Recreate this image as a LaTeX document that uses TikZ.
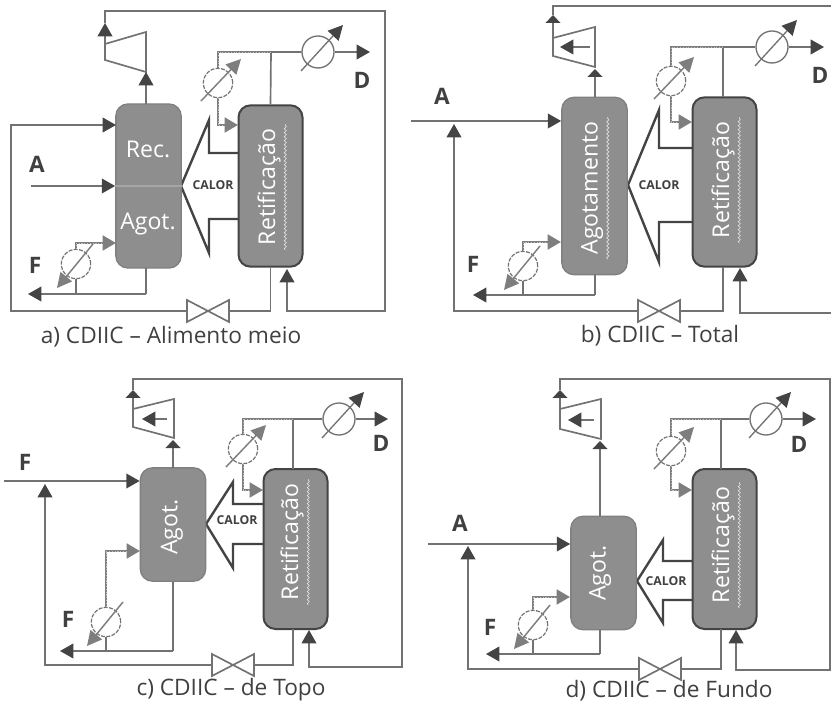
\documentclass[tikz,border=0pt]{standalone}
\usepackage{fontspec}
\setmainfont{Open Sans}
\usetikzlibrary{arrows.meta,decorations.pathmorphing}
\definecolor{linhacor}{HTML}{727272}
\definecolor{pontacor}{HTML}{444444}
\definecolor{cinzacor}{HTML}{7E7E7E}
\definecolor{colunacor}{HTML}{8E8E8E}
\definecolor{textocor}{HTML}{404040}
\tikzset{
  linha/.style={draw=linhacor,line width=1.25pt},
  seta/.style={linha,-{Triangle[length=10pt,width=11pt,color=pontacor]}},
  setab/.style={linha,-{Triangle[length=6pt,width=11pt,color=pontacor]}},
  setafina/.style={draw=linhacor,line width=1pt,-{Triangle[length=11pt,width=11pt,color=pontacor]}},
  pont/.style={draw=cinzacor,line width=2.1pt,postaction={draw=white!75!black,line width=0.7pt,dash pattern=on 0.8pt off 1.3pt}},
  setapont/.style={draw=cinzacor,line width=2.1pt,-{Triangle[length=10pt,width=11pt,color=cinzacor]},
    postaction={draw=white!75!black,line width=0.7pt,dash pattern=on 0.8pt off 1.3pt,arrows=-,shorten >=10pt}},
  setacinza/.style={draw=cinzacor,line width=1.1pt,-{Triangle[length=11pt,width=11pt,color=cinzacor]}},
  colAg/.style={draw=linhacor!90,line width=1pt,fill=colunacor,rounded corners=9pt,inner sep=0pt,minimum width=49pt},
  colRet/.style={draw=pontacor,line width=1.5pt,fill=colunacor,rounded corners=9pt,inner sep=0pt,minimum width=48pt},
  troc/.style={circle,draw=linhacor,line width=1pt,inner sep=0pt,minimum size=24pt},
  trocp/.style={circle,draw=linhacor,line width=0.9pt,dash pattern=on 3pt off 1pt,inner sep=0pt,minimum size=22pt},
  valv/.style={inner sep=0pt,minimum width=31pt,minimum height=16pt},
  calor/.style={draw=pontacor,line width=1.8pt,fill=white,miter limit=20},
  rot/.style={text=white,font=\fontsize{17.3}{18}\selectfont},
  rotv/.style={rot,rotate=90},
  leg/.style={text=textocor,font=\fontsize{17}{18}\selectfont},
  letra/.style={text=textocor,font=\bfseries\fontsize{17}{18}\selectfont},
  cal/.style={text=textocor,font=\bfseries\fontsize{9.2}{10}\selectfont,inner sep=0pt},
  ond/.style={draw=white!90!black,line width=0.45pt,decorate,decoration={snake,amplitude=0.8pt,segment length=3pt}}
}
\begin{document}
\begin{tikzpicture}[x=0.75pt,y=-0.75pt]
\useasboundingbox (0,0) rectangle (831,705);
% a) alimento meio
\draw[calor] (181,186)--(209,120)--(209,153)--(240,153)--(240,219)--(209,219)--(209,253)--cycle;
\node[colAg,minimum height=123pt] (recA) at (148.5,186) {};
\node[colRet,minimum height=121pt] (retA) at (270.5,186) {};
\draw[draw=white!65!black,line width=1.4pt] (recA.west)--(recA.east);
\node[rot] (tRec) at (148,149) {Rec.};
\node[rot] (tAgA) at (148,224) {Agot.};
\node[rotv] (tRetA) at (269,187) {Retificação};
\draw[ond] (tRetA.south west)--(tRetA.south east);
\node[cal] (cA) at (213,185) {CALOR};
\node[troc] (condA) at (318,52) {};
\node[trocp] (trocA) at (218,83) {};
\node[trocp] (refvA) at (76,264) {};
\node[valv] (valA) at (208,311) {};
\coordinate (nA) at (271,52); \coordinate (dA) at (370,52);
\coordinate (eA) at (238,125); \coordinate (fA) at (116,243);
\coordinate (gA) at (11,125); \coordinate (hA) at (116,125);
\coordinate (iA) at (31,186); \coordinate (jA) at (146,294);
\coordinate (kA) at (28,294); \coordinate (sA) at (105,23);
\coordinate (uA) at (76,294);
\draw[linha] (105,44)--(146,32)--(146,72)--(105,60)--cycle;
\draw[seta] (146,104)--(146,72);
\draw[seta] (105,44)--(sA);
\draw[seta] (sA)--(105,11)--(385,11)--(385,311)--(287,311)--(287,269);
\draw[linha] (retA.north)--(nA)--(condA.west);
\draw[seta] (condA.east)--(dA);
\draw[pont] (nA)-|(trocA.north);
\draw[setapont] (trocA.south)|-(eA);
\draw[seta] (iA)--(recA.west);
\draw[seta] (valA.west)-|(gA)--(hA);
\draw[linha] (retA.south)|-(valA.east);
\draw[linha] (146,268)|-(jA);
\draw[seta] (jA)--(kA);
\draw[linha] (uA)--(refvA.south);
\draw[setapont] (refvA.north)|-(fA);
\node[letra] (lA1) at (37,164) {A};
\node[letra] (lF1) at (35,265) {F};
\node[letra] (lD1) at (362,80) {D};
\node[leg] (capA) at (171,337) {a) CDIIC -- Alimento meio};
% b) total
\draw[calor] (628,185)--(659,110)--(659,148)--(694,148)--(694,222)--(659,222)--(659,262)--cycle;
\node[colAg,minimum height=133pt] (agB) at (594.5,186) {};
\node[colRet,minimum height=127pt] (retB) at (724.5,182) {};
\node[rotv] (tAgB) at (592,188) {Agotamento};
\draw[ond] (tAgB.south west)--(tAgB.south east);
\node[rotv] (tRetB) at (723,180) {Retificação};
\draw[ond] (tRetB.south west)--(tRetB.south east);
\node[cal] (cB) at (659,185) {CALOR};
\node[troc] (condB) at (772,47) {};
\node[trocp] (trocB) at (671,81) {};
\node[trocp] (refvB) at (523,266) {};
\node[valv] (valB) at (659,311) {};
\coordinate (nB) at (723,47); \coordinate (dB) at (824,47);
\coordinate (eB) at (692,122); \coordinate (fB) at (561,242);
\coordinate (gB) at (454,124); \coordinate (iB) at (411,121);
\coordinate (jB) at (595,295); \coordinate (kB) at (473,295);
\coordinate (sB) at (553,15); \coordinate (uB) at (523,295);
\draw[linha] (553,38)--(595,27)--(595,67)--(553,56)--cycle;
\draw[seta] (590,47)--(560,47);
\draw[setab] (595,97)--(595,69);
\draw[setab] (553,38)--(sB);
\draw[linha] (sB)--(553,6)--(835,6);
\draw[seta] (835,313)--(740,313)--(740,268);
\draw[linha] (723,97)--(nB)--(condB.west);
\draw[seta] (condB.east)--(dB);
\draw[pont] (nB)-|(trocB.north);
\draw[setapont] (trocB.south)|-(eB);
\draw[seta] (iB)--(agB.west |- iB);
\draw[seta] (valB.west)-|(gB);
\draw[linha] (723,267)|-(valB.east);
\draw[linha] (595,275)|-(jB);
\draw[seta] (jB)--(kB);
\draw[linha] (uB)--(refvB.south);
\draw[setapont] (refvB.north)|-(fB);
\node[letra] (lA2) at (442,96) {A};
\node[letra] (lF2) at (473,264) {F};
\node[letra] (lD2) at (820,75) {D};
\node[leg] (capB) at (660,336) {b) CDIIC -- Total};
% c) de topo
\draw[calor] (206,524)--(233,482)--(233,504)--(265,504)--(265,544)--(233,544)--(233,568)--cycle;
\node[colAg,minimum height=85pt] (agC) at (173,524.5) {};
\node[colRet,minimum height=120pt] (retC) at (295.5,549) {};
\node[rotv] (tAgC) at (172,527) {Agot.};
\node[rotv] (tRetC) at (292,542) {Retificação};
\draw[ond] (tRetC.south west)--(tRetC.south east);
\node[cal] (cC) at (237,520) {CALOR};
\node[troc] (condC) at (339,419) {};
\node[trocp] (trocC) at (243,449) {};
\node[trocp] (refvC) at (106,622) {};
\node[valv] (valC) at (233,665) {};
\coordinate (nC) at (293,419); \coordinate (dC) at (388,419);
\coordinate (eC) at (263,490); \coordinate (fC) at (140,551);
\coordinate (gC) at (45,484); \coordinate (iC) at (4,481);
\coordinate (jC) at (173,651); \coordinate (kC) at (60,651);
\coordinate (sC) at (133,390); \coordinate (uC) at (106,651);
\draw[linha] (133,409)--(174,399)--(174,438)--(133,427)--cycle;
\draw[seta] (167,419)--(142,419);
\draw[setab] (173,468)--(173,440);
\draw[setab] (133,409)--(sC);
\draw[seta] (sC)--(133,379)--(402,379)--(402,667)--(309,667)--(309,630);
\draw[linha] (293,469)--(nC)--(condC.west);
\draw[seta] (condC.east)--(dC);
\draw[pont] (nC)-|(trocC.north);
\draw[setapont] (trocC.south)|-(eC);
\draw[seta] (iC)--(agC.west |- iC);
\draw[seta] (valC.west)-|(gC);
\draw[linha] (293,629)|-(valC.east);
\draw[linha] (agC.south)|-(jC);
\draw[seta] (jC)--(kC);
\draw[linha] (uC)--(refvC.south);
\draw[setapont] (refvC.north)|-(fC);
\node[letra] (lF3) at (25,462) {F};
\node[letra] (lF4) at (68,619) {F};
\node[letra] (lD3) at (381,443) {D};
\node[leg] (capC) at (231,690) {c) CDIIC -- de Topo};
% d) de fundo
\draw[calor] (637,581)--(663,540)--(663,561)--(694,561)--(694,600)--(663,600)--(663,623)--cycle;
\node[colAg,minimum height=85pt] (agD) at (603.5,573) {};
\node[colRet,minimum height=120pt] (retD) at (724.5,549) {};
\node[rotv] (tAgD) at (600,573) {Agot.};
\node[rotv] (tRetD) at (723,545) {Retificação};
\draw[ond] (tRetD.south west)--(tRetD.south east);
\node[cal] (cD) at (666,581) {CALOR};
\node[troc] (condD) at (766,419) {};
\node[trocp] (trocD) at (671,451) {};
\node[trocp] (refvD) at (533,625) {};
\node[valv] (valD) at (660,669) {};
\coordinate (nD) at (721,419); \coordinate (dD) at (816,419);
\coordinate (eD) at (692,490); \coordinate (fD) at (570,597);
\coordinate (gD) at (468,546); \coordinate (iD) at (428,544);
\coordinate (jD) at (600,654); \coordinate (kD) at (486,654);
\coordinate (sD) at (560,390); \coordinate (uD) at (533,654);
\draw[linha] (560,409)--(601,399)--(601,439)--(560,429)--cycle;
\draw[seta] (594,420)--(568,420);
\draw[setab] (600,516)--(600,441);
\draw[setab] (560,409)--(sD);
\draw[seta] (sD)--(560,379)--(830,379)--(830,670)--(736,670)--(736,630);
\draw[linha] (721,469)--(nD)--(condD.west);
\draw[seta] (condD.east)--(dD);
\draw[pont] (nD)-|(trocD.north);
\draw[setapont] (trocD.south)|-(eD);
\draw[seta] (iD)--(agD.west |- iD);
\draw[seta] (valD.west)-|(gD);
\draw[linha] (721,629)|-(valD.east);
\draw[linha] (600,630)|-(jD);
\draw[seta] (jD)--(kD);
\draw[linha] (uD)--(refvD.south);
\draw[setapont] (refvD.north)|-(fD);
\node[letra] (lA4) at (460,523) {A};
\node[letra] (lF5) at (490,627) {F};
\node[letra] (lD4) at (799,444) {D};
\node[leg] (capD) at (669,691) {d) CDIIC -- de Fundo};
% trocadores e valvulas
\foreach \c in {condA,condB,condC,condD} \draw[setafina] (\c) ++(-17,19) -- ++(42,-46);
\foreach \c in {trocA,trocB,trocC,trocD} \draw[setacinza] (\c) ++(-17,18) -- ++(40,-42);
\foreach \c in {refvA,refvB,refvC,refvD} \draw[setacinza] (\c) ++(17,-20) -- ++(-36,44);
\foreach \v in {valA,valB,valC,valD} \draw[linha] (\v.north west)--(\v.south east)--(\v.north east)--(\v.south west)--cycle;
\end{tikzpicture}
\end{document}
